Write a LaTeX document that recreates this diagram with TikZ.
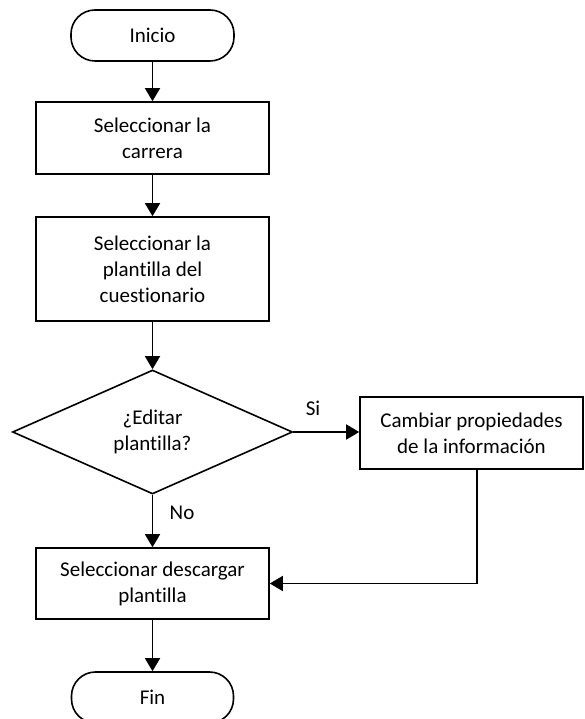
\documentclass[tikz,border=0pt]{standalone}
\usepackage{fontspec}
\setmainfont{Carlito}[Ligatures=NoCommon]
\usetikzlibrary{shapes.geometric,arrows.meta,calc}

\begin{document}
\begin{tikzpicture}[x=1pt,y=1pt,
    every node/.style={font=\fontsize{21}{26}\selectfont},
    terminal/.style={draw,line width=1.6pt,rounded corners=24pt,minimum width=163pt,minimum height=51pt},
    proceso/.style={draw,line width=1.6pt,align=center,minimum width=233pt},
    decision/.style={draw,line width=1.6pt,diamond,aspect=2.26,align=center,inner sep=1pt,minimum width=280pt,minimum height=124pt},
    flecha/.style={line width=1.6pt,-{Triangle[length=13pt,width=15pt]}}]
    \useasboundingbox (0,0) rectangle (584,719);

    \node[terminal] (inicio) at (152.5,683.5) {Inicio};
    \node[proceso,minimum height=72pt] (carrera) at (152.5,581) {Seleccionar la\\carrera};
    \node[proceso,minimum height=104pt] (plantilla) at (152.5,450) {Seleccionar la\\plantilla del\\cuestionario};
    \node[decision] (editar) at (152.5,287) {¿Editar\\plantilla?};
    \node[proceso,minimum width=223pt,minimum height=72pt] (cambiar) at (471.5,286) {Cambiar propiedades\\de la informaci\'on};
    \node[proceso,minimum height=71pt] (descargar) at (152.5,135.5) {Seleccionar descargar\\plantilla};
    \node[terminal,minimum width=162pt] (fin) at (152.5,21.5) {Fin};

    \node (si) at (313,311) {Si};
    \node (no) at (182,206) {No};

    \draw[flecha] (inicio) -- (carrera);
    \draw[flecha] (carrera) -- (plantilla);
    \draw[flecha] (plantilla) -- (editar);
    \draw[flecha] (editar.east) -- (editar.east -| cambiar.west);
    \draw[flecha] (editar) -- (descargar);
    \draw[flecha] ([xshift=5.5pt]cambiar.south) |- (descargar.east);
    \draw[flecha] (descargar) -- (fin);
\end{tikzpicture}
\end{document}
